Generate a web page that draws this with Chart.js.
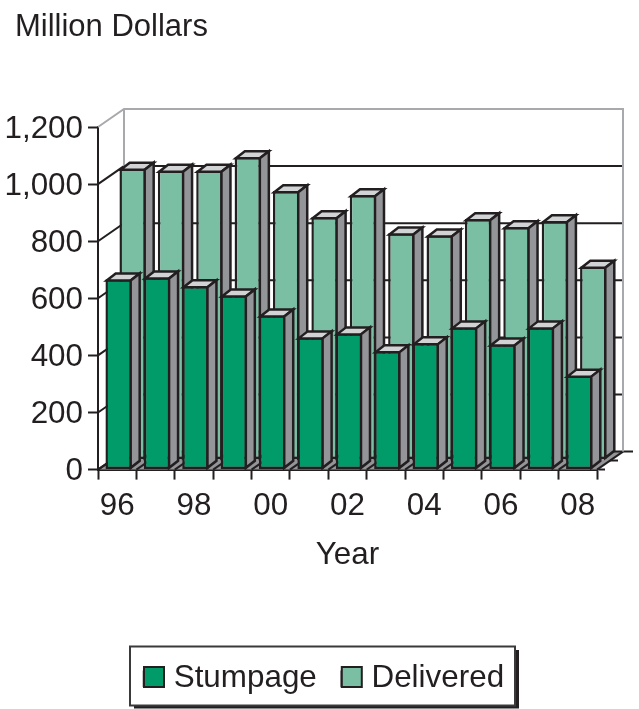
<!DOCTYPE html>
<html><head><meta charset="utf-8">
<style>html,body{margin:0;padding:0;background:#fff}canvas{display:block}</style>
<script src="https://cdn.jsdelivr.net/npm/chart.js@4"></script>
</head><body><canvas id="c" width="639" height="709"></canvas>
<script>
const categories = ['96','97','98','99','00','01','02','03','04','05','06','07','08'];
const stumpage = [667,674,643,611,541,464,478,415,443,499,439,499,330];
const delivered = [1020,1013,1013,1060,941,850,927,793,786,843,815,836,676];
const yTitle = 'Million Dollars';
const xTitle = 'Year';
const INK='#231f20', GREY='#a7a9ac', SIDE='#939598', TOP='#d1d3d4';
const GREEN='#009b68', MINT='#7abfa4';
const FONT='"Liberation Sans", Arial, sans-serif', FS=31.4;
const WALL={dx:26,dy:-18}, BAR={dx:9,dy:-7};
const SHIFT=[{x:1.5,y:0},{x:15.5,y:-10}];

const bar3d={
 id:'bar3d',
 beforeDraw(ch){
  const c=ch.ctx,l=ch.legend; if(!l)return;
  c.save();
  c.fillStyle=INK;c.fillRect(134,650,385,58.5);
  c.fillStyle='#fff';c.strokeStyle='#3a3a3c';c.lineWidth=2;
  c.fillRect(130,646.5,385,59);c.strokeRect(130,646.5,385,59);
  c.restore();
 },
 beforeDatasetsDraw(ch){
  const c=ch.ctx,a=ch.chartArea,y=ch.scales.y,x=ch.scales.x;
  const L=a.left,R=a.right,B=a.bottom,T=a.top,d=WALL;
  c.save();c.lineWidth=2;
  c.fillStyle=SIDE;
  c.beginPath();c.moveTo(L,B);c.lineTo(R,B);c.lineTo(R+d.dx,B+d.dy);c.lineTo(L+d.dx,B+d.dy);c.closePath();c.fill();
  c.strokeStyle=INK;
  y.ticks.forEach(t=>{
   const p=y.getPixelForValue(t.value);
   if(t.value>=y.max)return;
   c.beginPath();c.moveTo(L,p);c.lineTo(L+d.dx,p+d.dy);c.lineTo(R+d.dx,p+d.dy);c.stroke();
  });
  for(let i=0;i<=categories.length;i++){
   const px=L+(R-L)*i/categories.length;
   c.beginPath();c.moveTo(px,B);c.lineTo(px+d.dx,B+d.dy);c.stroke();
  }
  c.beginPath();c.moveTo(R,B);c.lineTo(R+8,B);c.moveTo(R+13,B+d.dy/2);c.lineTo(R+21,B+d.dy/2);c.moveTo(R+d.dx,B+d.dy);c.lineTo(R+d.dx+10,B+d.dy);c.stroke();
  c.strokeStyle=GREY;
  c.beginPath();c.moveTo(L,T);c.lineTo(L+d.dx,T+d.dy);c.lineTo(R+d.dx,T+d.dy);c.lineTo(R+d.dx,B+d.dy);
  c.moveTo(L+d.dx,T+d.dy);c.lineTo(L+d.dx,B+d.dy);c.stroke();
  c.restore();
 },
 beforeDatasetDraw(ch,args){
  const s=SHIFT[args.index];
  ch.ctx.save();ch.ctx.translate(s.x,s.y);
 },
 afterDatasetDraw(ch,args){
  const c=ch.ctx,d=BAR;
  c.lineWidth=2.5;c.strokeStyle=INK;c.lineJoin='miter';
  args.meta.data.forEach(b=>{
   const l=b.x-b.width/2+1.25,r=b.x+b.width/2-1.25,t=b.y+1.25,bs=b.base-1.25;
   c.fillStyle=TOP;c.beginPath();c.moveTo(l,t);c.lineTo(l+d.dx,t+d.dy);c.lineTo(r+d.dx,t+d.dy);c.lineTo(r,t);c.closePath();c.fill();c.stroke();
   c.fillStyle=SIDE;c.beginPath();c.moveTo(r,t);c.lineTo(r+d.dx,t+d.dy);c.lineTo(r+d.dx,bs+d.dy);c.lineTo(r,bs);c.closePath();c.fill();c.stroke();
  });
  c.restore();
 },
 afterLayout(ch){
  const l=ch.legend; if(!l)return;
  l.left=144-25; l.right=639; l.top=638;
  if(ch.titleBlock)ch.titleBlock.left=15;
 },
 afterDraw(ch){
  const c=ch.ctx,hb=ch.legend.legendHitBoxes;
  [GREEN,MINT].forEach((col,i)=>{
   const h=hb[i];
   c.save();c.fillStyle=col;c.strokeStyle=INK;c.lineWidth=2;
   c.fillRect(h.left,667,20,20);c.strokeRect(h.left,667,20,20);c.restore();
  });
 }
};

new Chart(document.getElementById('c'),{
 type:'bar',
 data:{labels:categories,datasets:[
  {label:'Stumpage',data:stumpage,backgroundColor:GREEN,borderColor:INK,borderWidth:2.5,borderSkipped:false,clip:false,grouped:false,barPercentage:0.69,categoryPercentage:1},
  {label:'Delivered',data:delivered,backgroundColor:MINT,borderColor:INK,borderWidth:2.5,borderSkipped:false,clip:false,grouped:false,barPercentage:0.69,categoryPercentage:1}
 ]},
 plugins:[bar3d],
 options:{
  responsive:false,animation:false,
  layout:{padding:{left:0,right:42,top:0,bottom:0}},
  plugins:{
   tooltip:{enabled:false},
   title:{display:true,text:yTitle,align:'start',color:INK,font:{family:FONT,size:31,weight:'normal',lineHeight:1.2},padding:{top:9,bottom:80.8}},
   legend:{position:'bottom',align:'start',labels:{boxWidth:14,boxHeight:14,padding:25,color:INK,font:{family:FONT,size:FS}}}
  },
  scales:{
   x:{
    offset:true,
    border:{display:true,color:INK,width:2},
    grid:{display:true,offset:true,drawOnChartArea:false,drawTicks:true,tickLength:10,tickColor:INK,tickWidth:2,color:INK},
    ticks:{autoSkip:false,maxRotation:0,minRotation:0,color:INK,padding:8,font:{family:FONT,size:FS},callback(v,i){return i%2?'':categories[i];}},
    title:{display:true,text:xTitle,color:INK,font:{family:FONT,size:FS},padding:{top:0,bottom:68}},
    afterFit(s){s.height=173;}
   },
   y:{
    min:0,max:1200,
    border:{display:true,color:INK,width:2},
    grid:{drawOnChartArea:false,drawTicks:true,tickLength:10,tickColor:INK,tickWidth:2},
    ticks:{stepSize:200,color:INK,padding:5,labelOffset:2,font:{family:FONT,size:FS},callback(v){return v.toLocaleString('en-US');}},
    afterFit(s){s.width=98;}
   }
  }
 }
});
</script></body></html>
